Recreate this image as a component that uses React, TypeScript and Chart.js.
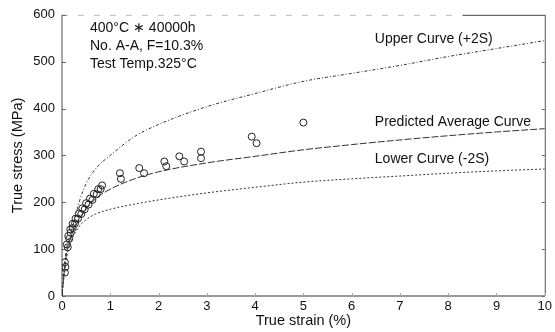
import React, { useEffect, useRef } from "react";
import { Chart, registerables } from "chart.js";

Chart.register(...registerables);

// ---- data ----
const curveStrain = [0, 0.03, 0.06, 0.1, 0.2, 0.37, 0.5, 0.7, 1.0, 1.5, 2, 3, 4, 5, 6, 7, 8, 9, 10];
const upperCurve = [0, 45, 76, 105, 140, 205, 240, 272, 300, 340, 366, 404, 432, 458, 475, 492, 511, 528, 545];
const averageCurve = [0, 35, 65, 95, 130, 165, 185, 208, 228, 250, 265, 284, 298, 312, 323, 333, 342, 350, 357];
const lowerCurve = [0, 30, 55, 85, 120, 150, 163, 175, 185, 196, 205, 220, 232, 243, 250, 256, 262, 267, 271];

const testStrain = [
  0.06, 0.07, 0.06,
  0.12, 0.15, 0.18, 0.22, 0.27, 0.33, 0.4, 0.47, 0.55, 0.63, 0.72, 0.8,
  0.1, 0.13, 0.17, 0.22, 0.28, 0.35, 0.42, 0.5, 0.58, 0.66, 0.75, 0.83,
  1.2, 1.22, 1.6, 1.7, 2.12, 2.16, 2.43, 2.53, 2.88, 2.88, 3.93, 4.03, 5.0,
];
const testStress = [
  50, 62, 72,
  104, 122, 135, 145, 155, 165, 175, 185, 195, 205, 217, 228,
  110, 128, 142, 154, 165, 176, 187, 198, 208, 218, 228, 236,
  262, 250, 273, 262, 287, 277, 298, 287, 308, 294, 340, 326, 370,
];

const xTicks = [0, 1, 2, 3, 4, 5, 6, 7, 8, 9, 10];
const yTicks = [0, 100, 200, 300, 400, 500, 600];

const infoLines = ["400°C ∗ 40000h", "No. A-A, F=10.3%", "Test Temp.325°C"];
const infoStrain = 0.58;
const infoStress = [572, 534, 494];

const curveLabels = ["Upper Curve (+2S)", "Predicted Average Curve", "Lower Curve (-2S)"];
const curveLabelStrain = 6.48;
const curveLabelStress = [547, 370, 292];

const FONT = "'Liberation Sans', Arial, sans-serif";

const framePlugin = {
  id: "frame",
  beforeDatasetsDraw(chart: any) {
    const { ctx, chartArea: a, scales } = chart;
    const { left, right, top, bottom } = a;
    ctx.save();
    ctx.strokeStyle = "#8a8a8a";
    ctx.lineWidth = 1.5;
    ctx.beginPath();
    ctx.moveTo(left, top);
    ctx.lineTo(left, bottom);
    ctx.stroke();
    ctx.strokeStyle = "#9a9a9a";
    ctx.lineWidth = 2;
    ctx.beginPath();
    ctx.moveTo(left, bottom);
    ctx.lineTo(right, bottom);
    ctx.stroke();
    ctx.strokeStyle = "#555";
    ctx.lineWidth = 1;
    ctx.beginPath();
    ctx.moveTo(right + 0.5, top);
    ctx.lineTo(right + 0.5, bottom);
    ctx.stroke();
    ctx.strokeStyle = "#bbb";
    ctx.setLineDash([6, 10]);
    ctx.beginPath();
    ctx.moveTo(left, top + 0.5);
    ctx.lineTo(scales.x.getPixelForValue(8.3), top + 0.5);
    ctx.stroke();
    ctx.setLineDash([]);
    ctx.strokeStyle = "#444";
    ctx.beginPath();
    ctx.moveTo(scales.x.getPixelForValue(8.3), top + 0.5);
    ctx.lineTo(right, top + 0.5);
    ctx.stroke();
    ctx.strokeStyle = "#666";
    ctx.lineWidth = 1;
    for (const v of yTicks) {
      const y = Math.round(scales.y.getPixelForValue(v)) + 0.5;
      ctx.beginPath();
      ctx.moveTo(left, y);
      ctx.lineTo(left + 4, y);
      ctx.moveTo(right, y);
      ctx.lineTo(right - 3, y);
      ctx.stroke();
    }
    ctx.strokeStyle = "#aaa";
    for (const v of xTicks) {
      const x = Math.round(scales.x.getPixelForValue(v)) + 0.5;
      ctx.beginPath();
      ctx.moveTo(x, bottom);
      ctx.lineTo(x, bottom - 3);
      ctx.stroke();
    }
    ctx.restore();
  },
  afterDatasetsDraw(chart: any) {
    const { ctx, scales } = chart;
    ctx.save();
    ctx.fillStyle = "#111";
    ctx.font = `14px ${FONT}`;
    ctx.textAlign = "left";
    ctx.textBaseline = "middle";
    infoLines.forEach((t, i) => {
      ctx.fillText(t, scales.x.getPixelForValue(infoStrain), scales.y.getPixelForValue(infoStress[i]));
    });
    curveLabels.forEach((t, i) => {
      ctx.fillText(t, scales.x.getPixelForValue(curveLabelStrain), scales.y.getPixelForValue(curveLabelStress[i]));
    });
    ctx.restore();
  },
};

export default function App() {
  const ref = useRef<HTMLCanvasElement>(null);
  useEffect(() => {
    if (!ref.current) return;
    const toPts = (xs: number[], ys: number[]) => xs.map((x, i) => ({ x, y: ys[i] }));
    const lineDs = (label: string, ys: number[], dash: number[]) => ({
      type: "line" as const,
      label,
      data: toPts(curveStrain, ys),
      borderColor: "#333",
      borderWidth: 1,
      borderDash: dash,
      pointRadius: 0,
      fill: false,
      cubicInterpolationMode: "monotone" as const,
    });
    const chart = new Chart(ref.current, {
      type: "scatter",
      data: {
        datasets: [
          lineDs("Upper Curve (+2S)", upperCurve, [3, 2, 1, 2]),
          lineDs("Predicted Average Curve", averageCurve, [7, 2]),
          lineDs("Lower Curve (-2S)", lowerCurve, [2, 2]),
          {
            type: "scatter" as const,
            label: "Test data",
            data: toPts(testStrain, testStress),
            pointStyle: "circle",
            pointRadius: 3.5,
            borderColor: "#222",
            borderWidth: 1,
            backgroundColor: "rgba(0,0,0,0)",
          },
        ],
      },
      options: {
        animation: false,
        responsive: true,
        maintainAspectRatio: false,
        layout: { padding: { top: 12, right: 7, left: 0, bottom: 0 } },
        plugins: { legend: { display: false }, tooltip: { enabled: false } },
        scales: {
          x: {
            type: "linear",
            min: 0,
            max: 10,
            afterFit: (s: any) => { s.height = 36; },
            afterBuildTicks: (s: any) => { s.ticks = xTicks.map((v) => ({ value: v })); },
            grid: { display: false, drawTicks: false },
            border: { display: false },
            ticks: { padding: 3, color: "#111", font: { family: FONT, size: 13 } },
            title: {
              display: true,
              text: "True strain (%)",
              color: "#111",
              font: { family: FONT, size: 14.5 },
              padding: { top: 0, bottom: 2 },
            },
          },
          y: {
            type: "linear",
            min: 0,
            max: 600,
            afterFit: (s: any) => { s.width = 62; },
            afterBuildTicks: (s: any) => { s.ticks = yTicks.map((v) => ({ value: v })); },
            grid: { display: false, drawTicks: false },
            border: { display: false },
            ticks: { padding: 7, color: "#111", font: { family: FONT, size: 13 } },
            title: {
              display: true,
              text: "True stress (MPa)",
              color: "#111",
              font: { family: FONT, size: 14.5 },
              padding: { top: 9, bottom: 0 },
            },
          },
        },
      },
      plugins: [framePlugin],
    } as any);
    return () => chart.destroy();
  }, []);
  return (
    <div style={{ position: "absolute", left: 0, top: 0, width: 555, height: 332, background: "#fff" }}>
      <canvas ref={ref} />
    </div>
  );
}
